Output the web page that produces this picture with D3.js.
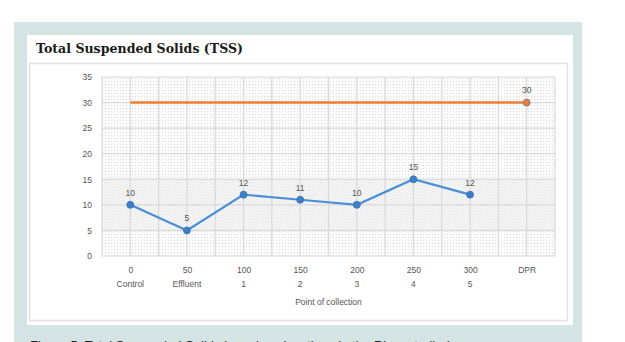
<!DOCTYPE html>
<html><head><meta charset="utf-8">
<script src="https://cdn.jsdelivr.net/npm/d3@7"></script>
<style>html,body{margin:0;padding:0;background:#fff;}svg{display:block;}</style>
</head><body>
<script>
const categories = ["0","50","100","150","200","250","300","DPR"];
const subLabels = ["Control","Effluent","1","2","3","4","5",""];
const tssValues = [10,5,12,11,10,15,12,null];
const limitValues = [30,30,30,30,30,30,30,30];
const yTicks = [0,5,10,15,20,25,30,35];

const W=625,H=342;
const svg=d3.select("body").append("svg").attr("width",W).attr("height",H);
const defs=svg.append("defs");
const dots=defs.append("pattern").attr("id","dots").attr("patternUnits","userSpaceOnUse").attr("width",3).attr("height",3);
dots.append("rect").attr("width",3).attr("height",3).attr("fill","#fcfcfc");
dots.append("rect").attr("width",1).attr("height",1).attr("fill","#dcdcdc");
const hatch=defs.append("pattern").attr("id","hatch").attr("patternUnits","userSpaceOnUse").attr("width",3).attr("height",3);
hatch.append("rect").attr("width",3).attr("height",3).attr("fill","#f8f8f8");
hatch.append("path").attr("d","M0,3L3,0M-1,1L1,-1M2,4L4,2").attr("stroke","#dcdcdc").attr("stroke-width",0.7);

// panels
svg.append("rect").attr("x",14).attr("y",22).attr("width",568).attr("height",320).attr("fill","#d4e3e3");
svg.append("rect").attr("x",27).attr("y",35).attr("width",546).attr("height",290).attr("fill","#fff");
svg.append("rect").attr("x",29.5).attr("y",63.5).attr("width",538).attr("height",257).attr("fill","#fff").attr("stroke","#e0e0e0").attr("stroke-width",1.5);
svg.append("text").attr("x",30).attr("y",349.5).attr("font-family","Liberation Sans, Arial").attr("font-size",13).attr("fill","#222")
  .text("Figure 5: Total Suspended Solids in various locations in the River studied.");

const t=svg.append("text").attr("x",36).attr("y",53).attr("font-family","DejaVu Serif").attr("font-weight","bold").attr("font-size",12.5).attr("fill","#1a1a1a")
  .text("Total Suspended Solids (TSS)");
t.attr("textLength",207).attr("lengthAdjust","spacingAndGlyphs");

const L=102,R=555,T=77,B=256;
const x=d3.scalePoint().domain(categories).range([L,R]).padding(0.5);
const y=d3.scaleLinear().domain([0,35]).range([B,T]);
const step=x.step();

const g=svg.append("g");
g.append("rect").attr("x",L).attr("y",T).attr("width",R-L).attr("height",B-T).attr("fill","url(#dots)");
g.append("rect").attr("x",L).attr("y",y(15)).attr("width",R-L).attr("height",y(5)-y(15)).attr("fill","url(#hatch)");

// gridlines
const vlines=[];
categories.forEach(c=>{vlines.push(x(c)-step/2);vlines.push(x(c));});
vlines.push(R);
g.selectAll(".vg").data(vlines).enter().append("line").attr("x1",d=>d).attr("x2",d=>d).attr("y1",T).attr("y2",B)
  .attr("stroke","#d9d9d9").attr("stroke-width",1.2);
g.selectAll(".hg").data(yTicks).enter().append("line").attr("x1",L).attr("x2",R).attr("y1",d=>y(d)).attr("y2",d=>y(d))
  .attr("stroke","#d9d9d9").attr("stroke-width",1.2);

const fontF="Liberation Sans, Arial";
const tc="#555";
const fs=8.5;
// y axis
const ya=d3.axisLeft(y).tickValues(yTicks).tickSize(0).tickPadding(10);
svg.append("g").attr("transform",`translate(${L},0)`).call(ya).call(s=>{
  s.select(".domain").remove();
  s.selectAll("text").attr("font-family",fontF).attr("font-size",fs).attr("fill",tc);
});
// x axis
const xa=d3.axisBottom(x).tickSize(0).tickPadding(11);
svg.append("g").attr("transform",`translate(0,${B})`).call(xa).call(s=>{
  s.select(".domain").remove();
  s.selectAll("text").attr("font-family",fontF).attr("font-size",fs).attr("fill",tc);
});
svg.append("g").selectAll("text").data(categories).enter().append("text")
  .attr("x",d=>x(d)).attr("y",287).attr("text-anchor","middle").attr("font-family",fontF).attr("font-size",fs).attr("fill",tc)
  .text((d,i)=>subLabels[i]);
svg.append("text").attr("x",(L+R)/2).attr("y",305).attr("text-anchor","middle").attr("font-family",fontF).attr("font-size",fs).attr("fill",tc)
  .text("Point of collection");

// limit line
const line=d3.line().defined(d=>d.v!=null).x(d=>x(d.c)).y(d=>y(d.v));
const lim=categories.map((c,i)=>({c,v:limitValues[i]}));
g.append("path").datum(lim).attr("d",line).attr("fill","none").attr("stroke","#ed7d31").attr("stroke-width",2.5);
const limLast=lim[lim.length-1];
g.append("circle").attr("cx",x(limLast.c)).attr("cy",y(limLast.v)).attr("r",3.5).attr("fill","#ed7d31").attr("stroke","#5a7fa8").attr("stroke-width",0.8);
g.append("text").attr("x",x(limLast.c)).attr("y",y(limLast.v)-10).attr("text-anchor","middle").attr("font-family",fontF).attr("font-size",fs).attr("fill",tc).text(limLast.v);

// TSS line
const tss=categories.map((c,i)=>({c,v:tssValues[i]})).filter(d=>d.v!=null);
g.append("path").datum(tss).attr("d",line).attr("fill","none").attr("stroke","#4a8fd6").attr("stroke-width",2.2);
g.selectAll(".pt").data(tss).enter().append("circle").attr("cx",d=>x(d.c)).attr("cy",d=>y(d.v)).attr("r",3.5)
  .attr("fill","#3f7fc6").attr("stroke","#3573b8").attr("stroke-width",0.8);
g.selectAll(".lb").data(tss).enter().append("text").attr("x",d=>x(d.c)).attr("y",d=>y(d.v)-9).attr("text-anchor","middle")
  .attr("font-family",fontF).attr("font-size",fs).attr("fill",tc).text(d=>d.v);
</script>
</body></html>
